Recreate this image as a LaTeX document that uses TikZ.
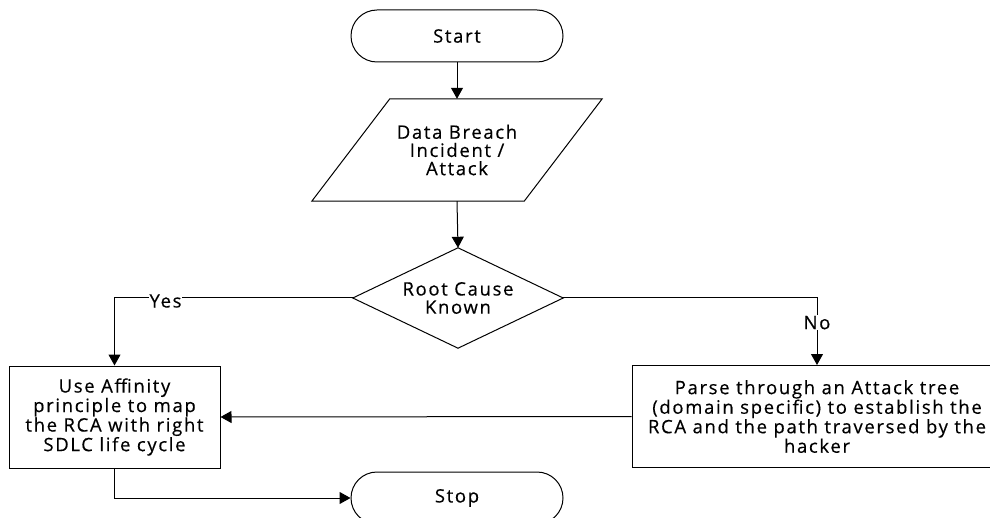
\documentclass[tikz,border=0pt]{standalone}
\usepackage{fontspec}
\setmainfont[LetterSpace=9,FakeBold=0.4]{Open Sans}
\usetikzlibrary{arrows.meta,shapes.misc}
\begin{document}
\begin{tikzpicture}[x=1pt,y=-1pt,
  every node/.style={font=\fontsize{18.5}{18.2}\selectfont, align=center, inner sep=0pt},
  line/.style={line width=1pt, draw=black},
  arr/.style={line, -{Triangle[length=11pt,width=12pt]}},
  terminal/.style={line, rounded rectangle, minimum width=212pt, minimum height=52pt},
  process/.style={line, rectangle, minimum height=102pt},
  frame/.style={rectangle, minimum width=212pt, minimum height=102pt},
  lbl/.style={fill=white, inner sep=1pt}]
\useasboundingbox (0,0) rectangle (990,518);
\clip (0,0) rectangle (990,518);

% shapes
\node[terminal] (start) at (457,36) {Start};
\node[frame] (data) at (457,150) {Data Breach\\Incident /\\Attack};
\draw[line] ([xshift=39pt]data.north west) -- ([xshift=39pt]data.north east)
  -- ([xshift=-39pt]data.south east) -- ([xshift=-39pt]data.south west) -- cycle;
\node[rectangle, minimum width=210pt, minimum height=100pt] (rc) at (458,298) {Root Cause\\Known};
\draw[line] (rc.north) -- (rc.east) -- (rc.south) -- (rc.west) -- cycle;
\node[process, minimum width=211pt] (affinity) at (114.5,417)
  {Use Affinity\\principle to map\\the RCA with right\\SDLC life cycle};
\node[process, minimum width=370pt] (parse) at (817,416.5)
  {Parse through an Attack tree\\(domain specific) to establish the\\RCA and the path traversed by the\\hacker};
\node[terminal] (stop) at (457,498) {Stop};

% connectors
\draw[arr] (start.south) -- (data.north);
\draw[arr] (data.south) -- (rc.north);
\draw[arr] (rc.west) -| node[lbl, pos=0.393, yshift=-3pt] (yes) {Yes} (affinity.north);
\draw[arr] (rc.east) -| node[lbl, pos=0.684] (no) {No} (parse.north);
\draw[arr] (parse.west) -- (affinity.east);
\draw[arr] (affinity.south) |- (stop.west);
\end{tikzpicture}
\end{document}
